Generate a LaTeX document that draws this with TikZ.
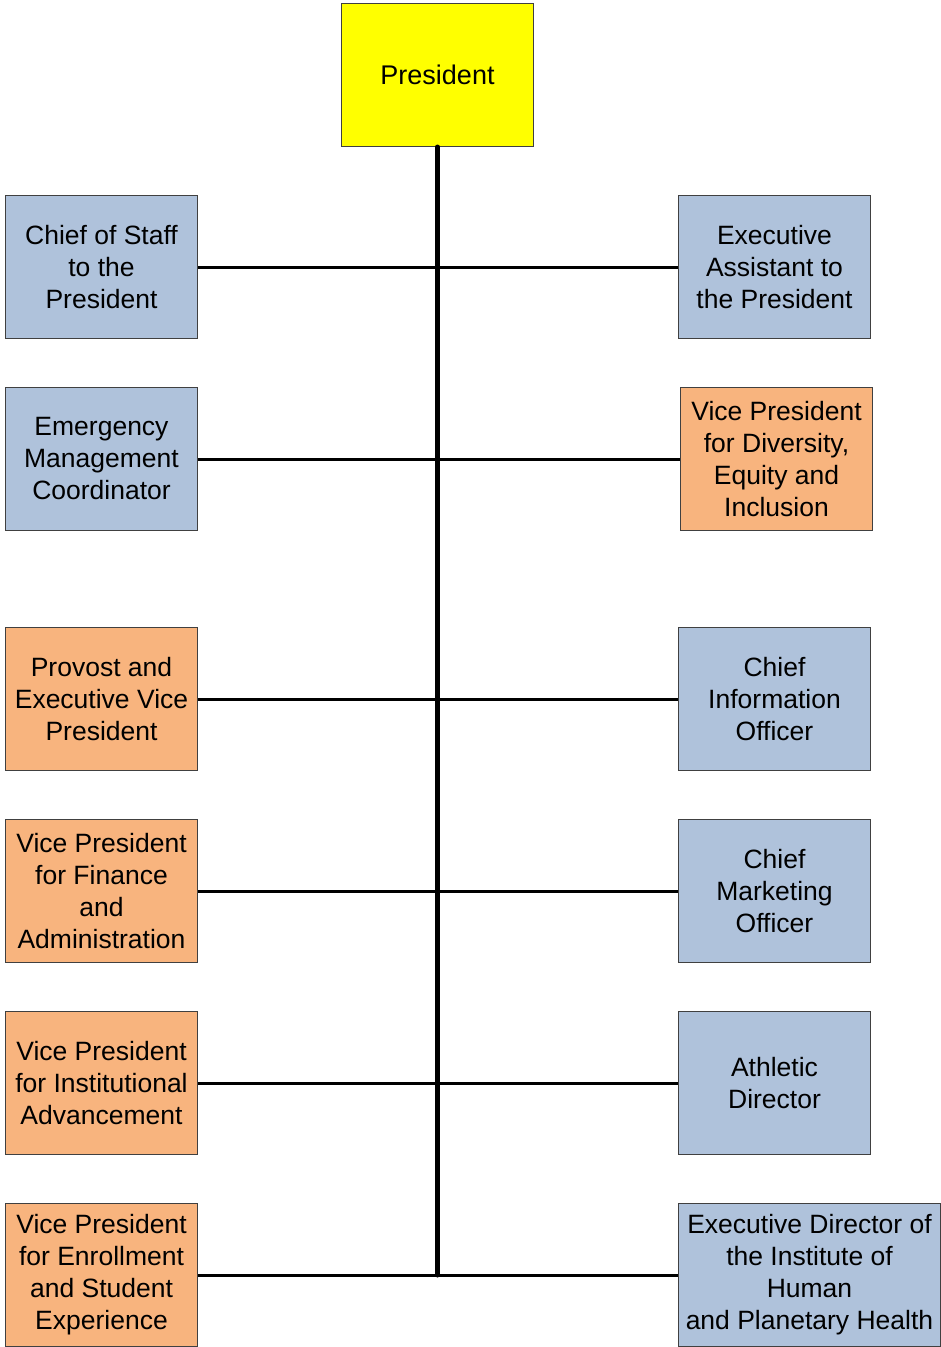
\documentclass[tikz,border=0pt]{standalone}
\usepackage{fontspec}
\setmainfont{Liberation Sans}
\definecolor{bluebox}{HTML}{AFC2DB}
\definecolor{orangebox}{HTML}{F8B47E}
\definecolor{yellowbox}{HTML}{FFFF00}
\definecolor{edge}{HTML}{404040}
\begin{document}
\begin{tikzpicture}[x=1pt,y=-1pt,
  box/.style={draw=edge, line width=1pt, anchor=north west, minimum width=192pt, minimum height=143pt, align=center, inner sep=0pt, font=\fontsize{26.5}{32}\selectfont},
  blue/.style={box, fill=bluebox},
  orange/.style={box, fill=orangebox},
  link/.style={line width=3pt},
  trunk/.style={line width=5pt, line cap=round}]
\useasboundingbox (0,0) rectangle (940,1347);
\node[box, fill=yellowbox, font=\fontsize{27}{32}\selectfont] (pres) at (341,3) {President};
% left column
\node[blue] (l1) at (5,195) {Chief of Staff\\to the\\President};
\node[blue] (l2) at (5,387) {Emergency\\Management\\Coordinator};
\node[orange] (l3) at (5,627) {Provost and\\Executive Vice\\President};
\node[orange] (l4) at (5,819) {Vice President\\for Finance\\and\\Administration};
\node[orange] (l5) at (5,1011) {Vice President\\for Institutional\\Advancement};
\node[orange] (l6) at (5,1203) {Vice President\\for Enrollment\\and Student\\Experience};
% right column
\node[blue] (r1) at (678,195) {Executive\\Assistant to\\the President};
\node[orange] (r2) at (680,387) {Vice President\\for Diversity,\\Equity and\\Inclusion};
\node[blue] (r3) at (678,627) {Chief\\Information\\Officer};
\node[blue] (r4) at (678,819) {Chief\\Marketing\\Officer};
\node[blue] (r5) at (678,1011) {Athletic\\Director};
\node[blue, minimum width=262pt] (r6) at (678,1203) {Executive Director of\\the Institute of\\Human\\and Planetary Health};
% connectors
\foreach \i in {1,...,6} {\draw[link] (l\i.east) -- (r\i.west);}
\coordinate (bot) at (pres.south |- l6.east);
\draw[trunk] (pres.south) -- (bot);
\end{tikzpicture}
\end{document}
